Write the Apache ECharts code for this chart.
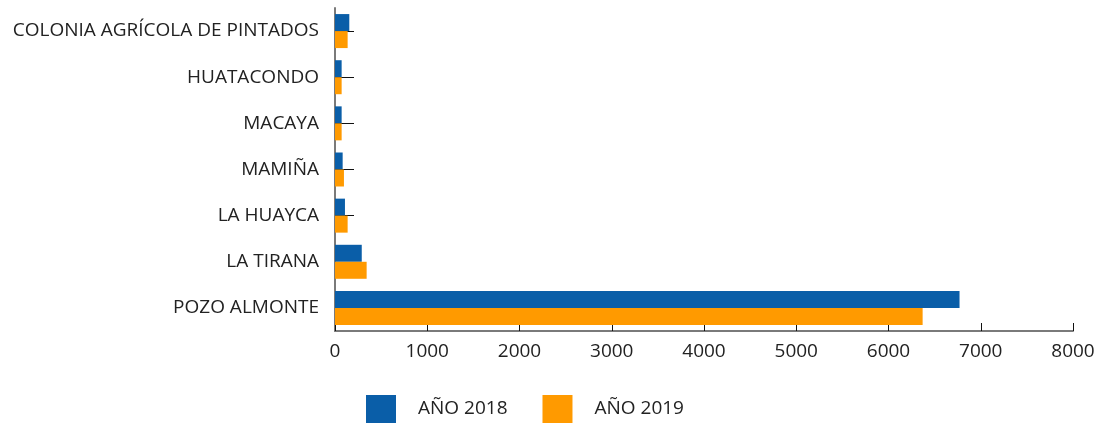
<!DOCTYPE html>
<html>
<head>
    <meta charset="utf-8">
    <title>Población por localidad</title>
    <script src="https://cdn.jsdelivr.net/npm/echarts@6/dist/echarts.min.js"></script>
    <style>
        html, body { margin: 0; padding: 0; background: #fff; }
    </style>
</head>
<body>
    <div id="main" style="width: 1104px;height:423px;"></div>
    <script type="text/javascript">
        // categorias de abajo hacia arriba
        var localidades = ['POZO ALMONTE', 'LA TIRANA', 'LA HUAYCA', 'MAMIÑA', 'MACAYA', 'HUATACONDO', 'COLONIA AGRÍCOLA DE PINTADOS'];
        var anio2018 = [6770, 290, 108, 83, 72, 72, 155];
        var anio2019 = [6370, 343, 137, 97, 72, 72, 137];
        var xTicks = [0, 1000, 2000, 3000, 4000, 5000, 6000, 7000, 8000];

        var myChart = echarts.init(document.getElementById('main'));
        var fuente = 'Open Sans';

        myChart.setOption({
            animation: false,
            textStyle: { fontFamily: fuente },
            grid: {
                left: 335,
                right: 31,
                top: 8,
                bottom: 92
            },
            legend: {
                bottom: -5,
                left: 361,
                itemWidth: 30,
                itemHeight: 28,
                itemGap: 35,
                icon: 'rect',
                textStyle: {
                    fontSize: 19,
                    color: '#222',
                    padding: [0, 0, 0, 17]
                },
                data: ['AÑO 2018', 'AÑO 2019']
            },
            xAxis: {
                type: 'value',
                min: xTicks[0],
                max: xTicks[xTicks.length - 1],
                interval: 1000,
                splitLine: { show: false },
                axisLine: { show: true, lineStyle: { color: '#7a7a7a', width: 2 } },
                axisTick: { show: true, inside: true, length: 8, lineStyle: { color: '#111' } },
                axisLabel: {
                    fontSize: 19,
                    color: '#222',
                    margin: 11,
                    formatter: function (v) { return String(v); }
                }
            },
            yAxis: {
                type: 'category',
                data: localidades,
                axisLine: { show: true, lineStyle: { color: '#7a7a7a', width: 2 } },
                axisTick: { show: true, inside: true, alignWithLabel: true, length: 19, lineStyle: { color: '#111' } },
                axisLabel: { fontSize: 19, color: '#222', margin: 16 }
            },
            series: [{
                name: 'AÑO 2018',
                type: 'bar',
                data: anio2018,
                barWidth: 17,
                barGap: '0%',
                itemStyle: { color: '#0A5EA8' }
            }, {
                name: 'AÑO 2019',
                type: 'bar',
                data: anio2019,
                barWidth: 17,
                barGap: '0%',
                itemStyle: { color: '#FF9A00' }
            }]
        });
    </script>
</body>
</html>
